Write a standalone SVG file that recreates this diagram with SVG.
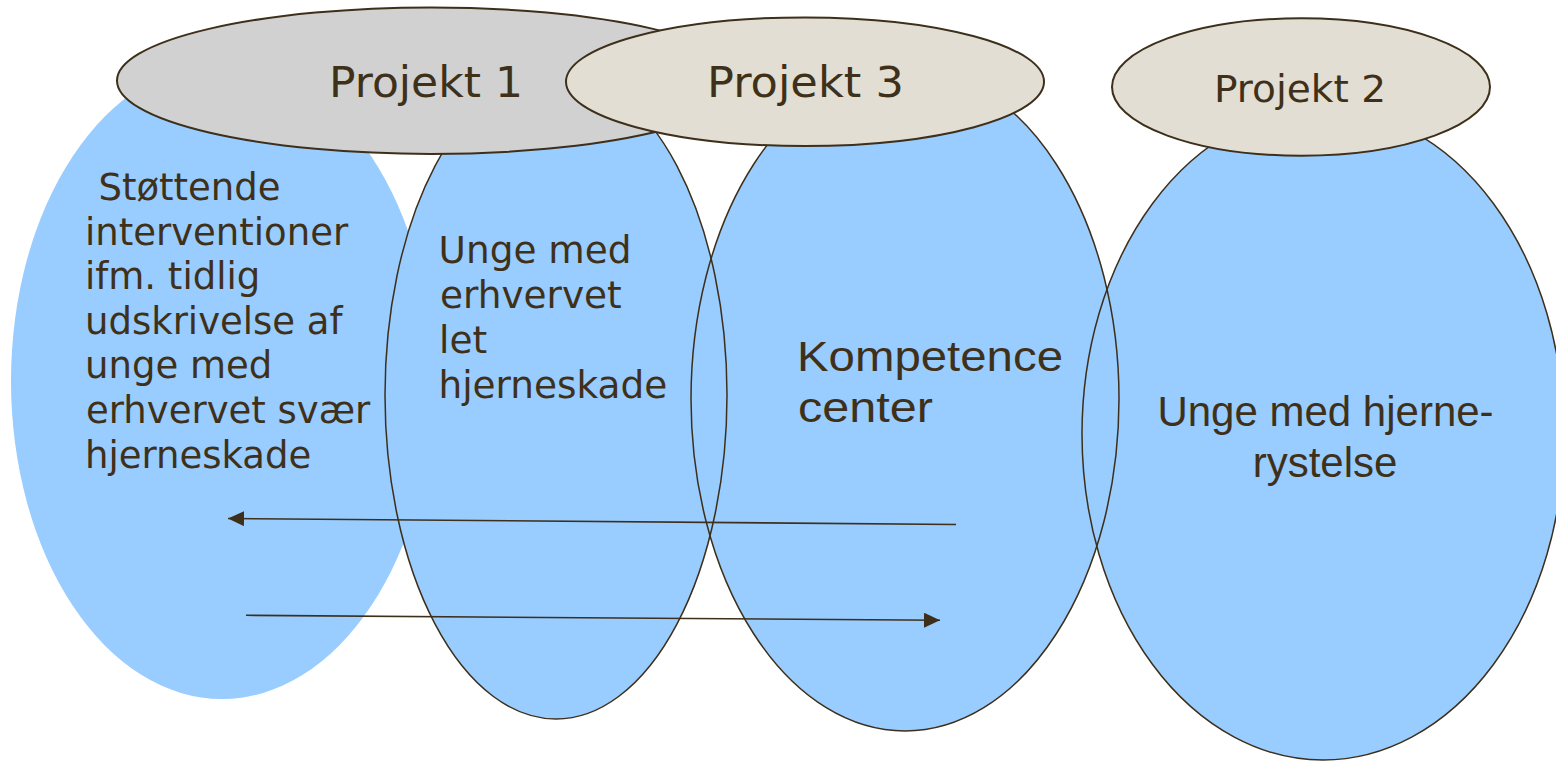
<svg xmlns="http://www.w3.org/2000/svg" width="1556" height="761" viewBox="0 0 1556 761">
  <style>
    .blue { fill: #99CCFF; stroke: none; }
    .outline { fill: none; stroke: #3D2F1A; stroke-width: 1.5; }
    .proj { stroke: #3D2F1A; stroke-width: 2; }
    .grey { fill: #D1D1D1; }
    .beige { fill: #E2DED4; }
    .vt { font-family: "DejaVu Sans", Verdana, sans-serif; fill: #3F3119; }
    .at { font-family: "Liberation Sans", Arial, sans-serif; fill: #3F3119; }
    .conn { stroke: #3D2F1A; stroke-width: 1.6; fill: none; }
  </style>
  <defs>
    <marker id="arrow" markerUnits="userSpaceOnUse" markerWidth="18" markerHeight="16" refX="16" refY="7.5" orient="auto">
      <path d="M0,0 L16,7.5 L0,15 Z" fill="#3D2F1A"/>
    </marker>
  </defs>
  <rect x="0" y="0" width="1556" height="761" fill="#FFFFFF"/>

  <!-- blue node fills -->
  <g id="node-stottende">
    <ellipse class="blue" cx="222" cy="381" rx="211" ry="318"/>
  </g>
  <g id="node-let">
    <ellipse class="blue" cx="556" cy="395" rx="171" ry="324"/>
  </g>
  <g id="node-kompetence">
    <ellipse class="blue" cx="905" cy="399" rx="214" ry="332"/>
  </g>
  <g id="node-hjernerystelse">
    <ellipse class="blue" cx="1323" cy="434" rx="241" ry="326"/>
  </g>

  <!-- outlines of blue ellipses (all visible through overlaps) -->
  <g id="outlines">
    <ellipse class="outline" cx="556" cy="395" rx="171" ry="324"/>
    <ellipse class="outline" cx="905" cy="399" rx="214" ry="332"/>
    <ellipse class="outline" cx="1323" cy="434" rx="241" ry="326"/>
  </g>

  <!-- project headers -->
  <g id="node-projekt1">
    <ellipse class="proj grey" cx="431" cy="80.7" rx="314" ry="73.3"/>
    <text class="vt" x="329" y="97.3" font-size="42" textLength="194" lengthAdjust="spacingAndGlyphs">Projekt 1</text>
  </g>
  <g id="node-projekt3">
    <ellipse class="proj beige" cx="805" cy="81.7" rx="239" ry="64.3"/>
    <text class="vt" x="707" y="97.3" font-size="42" textLength="197" lengthAdjust="spacingAndGlyphs">Projekt 3</text>
  </g>
  <g id="node-projekt2">
    <ellipse class="proj beige" cx="1301" cy="87" rx="189" ry="68.7"/>
    <text class="vt" x="1214" y="101.7" font-size="37" textLength="172" lengthAdjust="spacingAndGlyphs">Projekt 2</text>
  </g>

  <!-- node texts -->
  <g id="text-stottende" class="vt" font-size="37">
    <text x="98.4" y="200">Støttende</text>
    <text x="85" y="244.5">interventioner</text>
    <text x="85" y="289">ifm. tidlig</text>
    <text x="85" y="333.5">udskrivelse af</text>
    <text x="85" y="378">unge med</text>
    <text x="86" y="423">erhvervet svær</text>
    <text x="85" y="468">hjerneskade</text>
  </g>
  <g id="text-let" class="vt" font-size="37.4">
    <text x="438.6" y="263">Unge med</text>
    <text x="440" y="308">erhvervet</text>
    <text x="439" y="353">let</text>
    <text x="438.5" y="397.5">hjerneskade</text>
  </g>
  <g id="text-kompetence" class="at" font-size="43">
    <text x="797" y="371" textLength="266" lengthAdjust="spacingAndGlyphs">Kompetence</text>
    <text x="798" y="421.5" textLength="135" lengthAdjust="spacingAndGlyphs">center</text>
  </g>
  <g id="text-hjernerystelse" class="at" font-size="42" text-anchor="middle">
    <text x="1325.5" y="426">Unge med hjerne-</text>
    <text x="1325" y="476.5">rystelse</text>
  </g>

  <!-- connectors -->
  <g id="connectors">
    <line class="conn" x1="956" y1="524.5" x2="228" y2="518.5" marker-end="url(#arrow)"/>
    <line class="conn" x1="246" y1="615.3" x2="940" y2="620.3" marker-end="url(#arrow)"/>
  </g>
</svg>
